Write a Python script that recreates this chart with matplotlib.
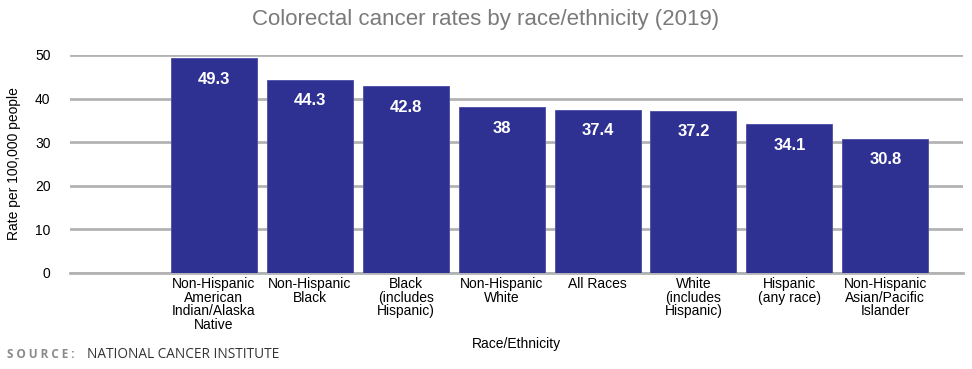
import matplotlib.pyplot as plt

categories = ["Non-Hispanic\nAmerican\nIndian/Alaska\nNative", "Non-Hispanic\nBlack",
              "Black\n(includes\nHispanic)", "Non-Hispanic\nWhite", "All Races",
              "White\n(includes\nHispanic)", "Hispanic\n(any race)",
              "Non-Hispanic\nAsian/Pacific\nIslander"]
rates = [49.3, 44.3, 42.8, 38, 37.4, 37.2, 34.1, 30.8]
rate_labels = ["49.3", "44.3", "42.8", "38", "37.4", "37.2", "34.1", "30.8"]
yticks = [0, 10, 20, 30, 40, 50]

plt.rcParams['font.family'] = ['Liberation Sans', 'DejaVu Sans']

fig = plt.figure(figsize=(9.72, 3.69), dpi=100)
ax = fig.add_axes([70 / 972, 1 - 273 / 369, 893 / 972, 218 / 369])

x = list(range(len(rates)))
ax.bar(x, rates, width=0.897, color="#2e3192", edgecolor="#4a4da3", linewidth=0.6, zorder=3)
for xi, v, lab in zip(x, rates, rate_labels):
    ax.annotate(lab, (xi, v), xytext=(0, -21), textcoords="offset pixels",
                ha="center", va="center", color="white", fontsize=12, fontweight="bold", zorder=4)

ax.set_xlim(-1.5, 7.81)
ax.set_ylim(0, 50)
ax.set_yticks(yticks)
ax.yaxis.grid(True, color="#b3b3b3", linewidth=2, zorder=0)
ax.set_axisbelow(True)
for s in ["top", "right", "left"]:
    ax.spines[s].set_visible(False)
ax.spines["bottom"].set_color("#b3b3b3")
ax.spines["bottom"].set_linewidth(2)
ax.tick_params(axis="both", length=0, labelsize=10, colors="black")
ax.tick_params(axis="y", pad=14)
ax.tick_params(axis="x", pad=3)
ax.set_xticks(x)
ax.set_xticklabels(categories, linespacing=0.95)
ax.set_xlabel("Race/Ethnicity", fontsize=10, labelpad=4)
ax.set_ylabel("Rate per 100,000 people", fontsize=10, labelpad=10)

fig.text(0.5, 1 - 20 / 369, "Colorectal cancer rates by race/ethnicity (2019)", ha="center", va="center",
         fontsize=16, color="#7a7a7a")
fig.text(7 / 972, 1 - 354 / 369, "S O U R C E :", ha="left", va="center", fontsize=8.5,
         color="#8a8a8a", fontweight="bold", family=["Open Sans", "DejaVu Sans"])
fig.text(87 / 972, 1 - 354 / 369, "NATIONAL CANCER INSTITUTE", ha="left", va="center",
         fontsize=9.8, color="#333333", family=["Open Sans", "DejaVu Sans"])

fig.savefig("out.png", dpi=100)
